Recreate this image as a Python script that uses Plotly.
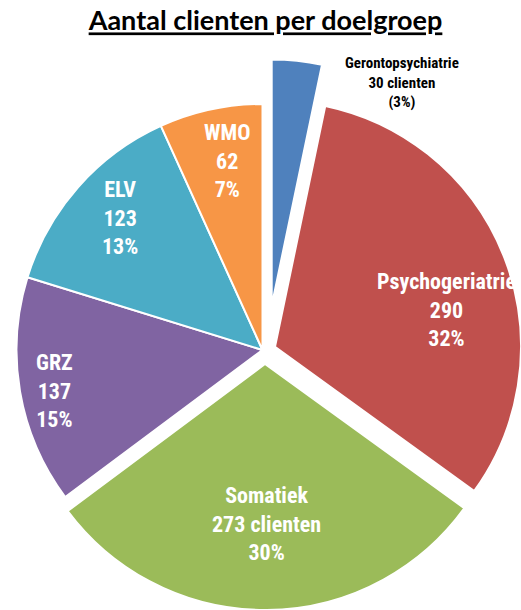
import math
import plotly.graph_objects as go

# ---- data ----
categories = ["Gerontopsychiatrie", "Psychogeriatrie", "Somatiek", "GRZ", "ELV", "WMO"]
clients = [30, 290, 273, 137, 123, 62]
value_suffix = [" clienten", "", " clienten", "", "", ""]
title_text = "Aantal clienten per doelgroep"

# ---- style / layout ----
colors = ["#4F81BD", "#C0504D", "#9BBB59", "#8064A2", "#4BACC6", "#F79646"]
W, H = 521, 610
R = 246                       # pie radius (px)
BASE_CX, BASE_CY = 262.5, 350  # pie centre (px from top-left)
explode_px = {0: (9.2, -44.4), 1: (12.5, -3.3), 2: (2.5, 14.0)}   # exploded slices
slice_groups = [[3, 4, 5], [0], [1], [2]]
label_rf = [1.05, 0.715, 0.65, 0.86, 0.79, 0.78]     # label distance (fraction of R)
label_da = [24.3, 9.0, 0.0, -1.5, 1.5, 1.5]          # label angle tweak (deg)
FONT = "Roboto Condensed, Liberation Sans Narrow, sans-serif"
TRANSPARENT = "rgba(0,0,0,0)"

total = sum(clients)
fig = go.Figure()

def slice_centre(i):
    dx, dy = explode_px.get(i, (0.0, 0.0))
    return BASE_CX + dx, BASE_CY + dy

for grp in slice_groups:
    cx, cy = slice_centre(grp[0])
    dom_x = [max(0.0, (cx - R) / W), min(1.0, (cx + R) / W)]
    dom_y = [max(0.0, 1 - (cy + R) / H), min(1.0, 1 - (cy - R) / H)]
    fig.add_trace(go.Pie(
        labels=categories, values=clients, sort=False, direction="clockwise", rotation=0,
        marker=dict(
            colors=[colors[i] if i in grp else TRANSPARENT for i in range(len(categories))],
            line=dict(color="white",
                      width=[2 if i in grp else 0 for i in range(len(categories))]),
        ),
        textinfo="none", domain=dict(x=dom_x, y=dom_y), showlegend=False,
        hoverinfo="label+value+percent",
    ))

# ---- labels ----
cum = 0
for i, (cat, val) in enumerate(zip(categories, clients)):
    mid = (cum + val / 2) / total * 360
    cum += val
    cx, cy = slice_centre(i)
    ang = math.radians(mid + label_da[i])
    lx = cx + label_rf[i] * R * math.sin(ang)
    ly = cy - label_rf[i] * R * math.cos(ang)
    pct = round(100 * val / total)
    if i == 0:
        text = f"{cat}<br>{val}{value_suffix[i]}<br>({pct}%)"
        font = dict(family=FONT, size=15, color="black", weight="bold")
    else:
        text = f"{cat}<br>{val}{value_suffix[i]}<br>{pct}%"
        font = dict(family=FONT, size=22, color="white", weight="bold")
    fig.add_annotation(text=text, x=lx / W, y=1 - ly / H, xref="paper", yref="paper",
                       showarrow=False, xanchor="center", yanchor="middle", font=font)

fig.update_layout(
    width=W, height=H,
    margin=dict(l=0, r=0, t=0, b=0),
    paper_bgcolor="white", plot_bgcolor="white",
    title=dict(text=title_text, x=265.5 / W, y=1 - 21 / H, xanchor="center", yanchor="middle",
               font=dict(family="Lato, Open Sans, sans-serif", size=27, color="black",
                         weight="bold", lineposition="under")),
)

page_css = "var s=document.createElement('style');s.textContent='body{margin:0}';document.head.appendChild(s);"
fig.write_html("out.html", post_script=page_css, config={"displayModeBar": False})
